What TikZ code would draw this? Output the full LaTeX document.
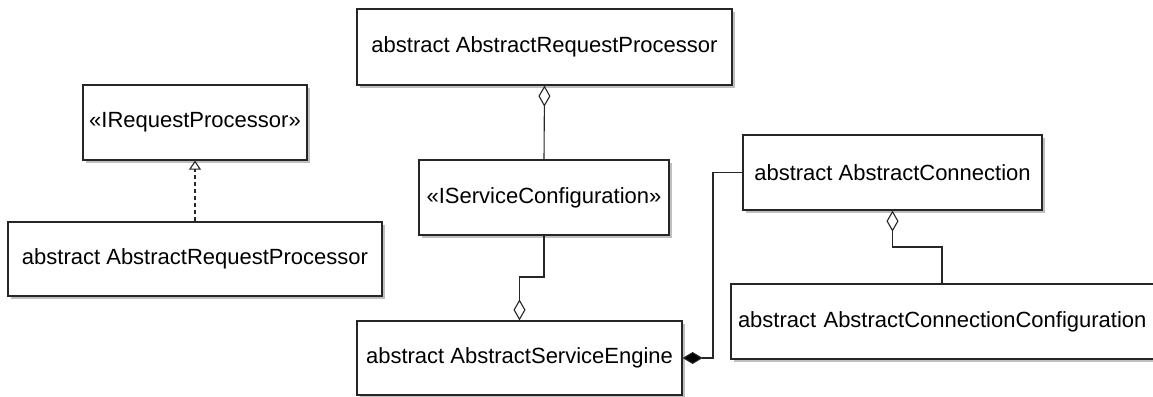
\documentclass[tikz,border=0pt]{standalone}
\usepackage{fontspec}
\setmainfont{Liberation Sans}
\usetikzlibrary{arrows.meta,shadows,calc}
\begin{document}
\begin{tikzpicture}[x=1pt,y=-1pt,
  cls/.style={draw=black!85, line width=1.2pt, fill=white, inner sep=0pt,
    font=\fontsize{22}{26}\selectfont,
    drop shadow={shadow xshift=3pt, shadow yshift=-3pt, fill=black!25, opacity=1}},
  conn/.style={draw=black!85, line width=1.1pt},
  aggr/.style={conn, -{Diamond[open, length=21pt, width=12pt]}},
  comp/.style={conn, -{Diamond[fill=black, length=20pt, width=12pt]}},
  realize/.style={conn, dash pattern=on 4pt off 3pt, -{Triangle[open, length=9pt, width=12pt]}}]
\useasboundingbox (0,0) rectangle (1153,396);
\node[cls, minimum width=224pt, minimum height=75pt] (irp) at (195,122.5) {«IRequestProcessor»};
\node[cls, minimum width=374pt, minimum height=74pt] (larp) at (195,259) {abstract AbstractRequestProcessor};
\node[cls, minimum width=375pt, minimum height=76pt] (tarp) at (544.5,47) {abstract AbstractRequestProcessor};
\node[cls, minimum width=250pt, minimum height=75pt] (isc) at (544,197.5) {«IServiceConfiguration»};
\node[cls, minimum width=325pt, minimum height=74pt] (ase) at (519.5,358) {abstract AbstractServiceEngine};
\node[cls, minimum width=299pt, minimum height=75pt] (ac) at (892.5,172.5) {abstract AbstractConnection};
\node[cls, minimum width=434pt, minimum height=75pt, text width=420pt, align=left] (acc) at (948,321.5) {abstract AbstractConnectionConfiguration};
\coordinate (b1) at (531.5,277);
\coordinate (b2) at (713,0);
\coordinate (b3) at (892.5,247);
\draw[realize] (larp.north) -- (irp.south);
\draw[aggr] (isc.north) -- (tarp.south);
\draw[aggr] (isc.south) -- (isc.south |- b1) -| (ase.north);
\draw[comp] (ac.west) -| (b2 |- ase.east) -- (ase.east);
\draw[aggr] ([xshift=-6pt]acc.north) |- (b3) -| (ac.south);
\end{tikzpicture}
\end{document}
